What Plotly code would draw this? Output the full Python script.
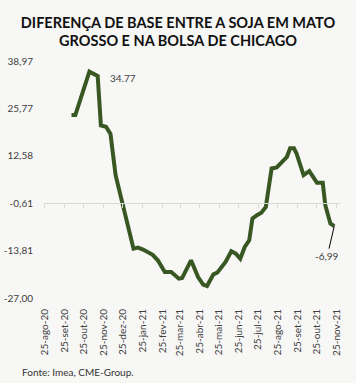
import plotly.graph_objects as go

# Data (date, basis value)
dates = [
    "2020-10-06", "2020-10-12", "2020-11-03", "2020-11-16", "2020-11-21", "2020-11-29",
    "2020-12-06", "2020-12-14", "2021-01-11", "2021-01-18", "2021-01-26", "2021-02-01",
    "2021-02-10", "2021-02-18", "2021-03-01", "2021-03-11", "2021-03-16", "2021-03-23",
    "2021-03-28", "2021-04-11", "2021-04-22", "2021-04-30", "2021-05-06", "2021-05-16",
    "2021-05-22", "2021-05-29", "2021-06-04", "2021-06-13", "2021-06-20", "2021-06-27",
    "2021-07-04", "2021-07-11", "2021-07-16", "2021-07-23", "2021-07-30", "2021-08-06",
    "2021-08-15", "2021-08-23", "2021-08-31", "2021-09-08", "2021-09-13", "2021-09-19",
    "2021-09-23", "2021-10-04", "2021-10-13", "2021-10-25", "2021-11-03", "2021-11-07",
    "2021-11-15", "2021-11-21",
]
values = [
    23.94, 23.94, 36.01, 34.77, 21.01, 20.67,
    18.64, 7.20, -13.25, -12.97, -13.52, -14.14,
    -14.98, -16.51, -19.77, -19.77, -20.50, -21.61,
    -21.45, -16.51, -21.17, -23.29, -23.68, -20.41,
    -19.94, -18.10, -16.98, -14.00, -14.64, -16.04,
    -12.80, -10.93, -4.88, -3.96, -3.26, -1.64,
    9.07, 9.35, 10.91, 12.30, 14.65, 14.65,
    13.25, 7.20, 8.32, 5.05, 5.05, -1.17,
    -6.27, -6.99,
]

tick_dates = [
    "2020-08-25", "2020-09-25", "2020-10-25", "2020-11-25", "2020-12-25", "2021-01-25",
    "2021-02-25", "2021-03-25", "2021-04-25", "2021-05-25", "2021-06-25", "2021-07-25",
    "2021-08-25", "2021-09-25", "2021-10-25", "2021-11-25",
]
tick_labels = [
    "25-ago-20", "25-set-20", "25-out-20", "25-nov-20", "25-dez-20", "25-jan-21",
    "25-fev-21", "25-mar-21", "25-abr-21", "25-mai-21", "25-jun-21", "25-jul-21",
    "25-ago-21", "25-set-21", "25-out-21", "25-nov-21",
]
y_ticks = [38.97, 25.77, 12.58, -0.61, -13.81, -27.00]
y_tick_labels = ["38,97", "25,77", "12,58", "-0,61", "-13,81", "-27,00"]

BG = "#f7f7f5"
GREEN = "#385723"
TXT = "#404040"
y_min, y_max = -27.0, 38.97
x_range = ["2020-08-24", "2021-11-30"]

W, H = 356, 383
ML, MR, MT, MB = 44, 16, 61, 85
PW, PH = W - ML - MR, H - MT - MB

fig = go.Figure()
fig.add_trace(go.Scatter(
    x=dates, y=values, mode="lines",
    line=dict(color=GREEN, width=4),
    hoverinfo="skip", showlegend=False,
))
# Empty trace so the crossing axis is drawn
fig.add_trace(go.Scatter(x=[], y=[], xaxis="x2", showlegend=False, hoverinfo="skip"))

axis_pos = (-0.61 - y_min) / (y_max - y_min)

fig.update_layout(
    width=W, height=H,
    paper_bgcolor=BG, plot_bgcolor=BG,
    margin=dict(l=ML, r=MR, t=MT, b=MB, autoexpand=False),
    font=dict(family="Lato", size=10, color=TXT),
    title=dict(
        text="<b>DIFERENÇA DE BASE ENTRE A SOJA EM MATO<br>GROSSO E NA BOLSA DE CHICAGO</b>",
        x=0.5, xanchor="center", xref="container",
        y=0.928, yanchor="top", yref="container",
        font=dict(family="Lato", size=14.5, color="#111111"),
    ),
    xaxis=dict(
        type="date", range=x_range, automargin=False,
        tickvals=tick_dates, ticktext=tick_labels, tickangle=-90,
        showgrid=False, zeroline=False, showline=False,
        ticks="outside", ticklen=6, tickcolor=BG,
        tickfont=dict(family="Lato", size=10, color=TXT),
    ),
    xaxis2=dict(
        type="date", range=x_range, overlaying="x", matches="x", automargin=False,
        anchor="free", position=axis_pos, side="bottom",
        tickvals=tick_dates, showticklabels=False,
        showgrid=False, zeroline=False,
        showline=True, linecolor="#d9d9d9", linewidth=1,
        ticks="outside", ticklen=4, tickcolor="#d9d9d9",
    ),
    yaxis=dict(
        range=[y_min, y_max], automargin=False,
        tickvals=y_ticks, ticktext=y_tick_labels,
        showgrid=False, zeroline=False, showline=False,
        ticks="outside", ticklen=8, tickcolor=BG,
        tickfont=dict(family="Lato", size=10, color=TXT),
    ),
)

fig.add_annotation(
    x=dates[3], y=values[3], text="34.77", showarrow=False,
    xanchor="left", xshift=10, yshift=-2,
    font=dict(family="Lato", size=10, color=TXT),
)
fig.add_annotation(
    x=dates[-1], y=values[-1], text="-6,99", showarrow=True,
    ax=-7, ay=30, arrowhead=0, arrowwidth=1, arrowcolor="#000000",
    font=dict(family="Lato", size=10, color=TXT),
)
fig.add_annotation(
    x=(20 - ML) / PW, y=-(372 - (MT + PH)) / PH, xref="paper", yref="paper",
    text="Fonte: Imea, CME-Group.", showarrow=False,
    xanchor="left", yanchor="middle",
    font=dict(family="Lato", size=10, color="#333333"),
)

fig.write_html(
    "out.html",
    config={"displayModeBar": False, "staticPlot": True},
    post_script="document.body.style.margin='0px';document.body.style.background='#f7f7f5';",
)
